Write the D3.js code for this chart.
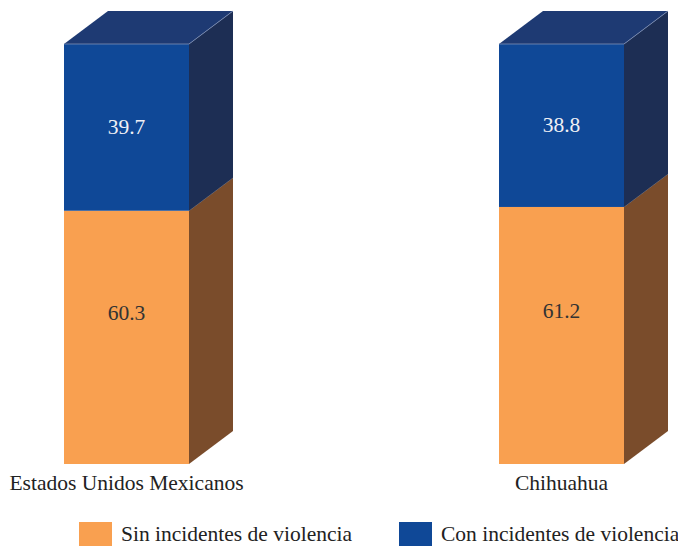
<!DOCTYPE html>
<html><head><meta charset="utf-8">
<script src="https://cdn.jsdelivr.net/npm/d3@7"></script>
<style>body{margin:0;background:#fff}svg{display:block}</style>
</head><body>
<svg id="c" width="678" height="546"></svg>
<script>
const categories = ["Estados Unidos Mexicanos", "Chihuahua"];
const sinValues = [60.3, 61.2];
const conValues = [39.7, 38.8];
const seriesNames = ["Sin incidentes de violencia", "Con incidentes de violencia"];

const svg = d3.select("#c");
const dx = 44, dy = -33;
const left = 64, right = 624, bw = 125;
const p = (right - left - 2 * bw) / (right - left - bw);
const x = d3.scaleBand().domain(categories).range([left, right]).paddingInner(p).paddingOuter(0);
const y = d3.scaleLinear().domain([0, 100]).range([464, 44]);

const colors = {
  sin: {front: "#F9A050", side: "#7A4C2B", top: "#F9A050"},
  con: {front: "#0F4897", side: "#1D2E54", top: "#1E3A73"}
};
const FS = 21.5;
const FF = "Liberation Serif";

categories.forEach((c, i) => {
  const x0 = x(c), x1 = x0 + x.bandwidth();
  const segs = [
    {v0: 0, v1: sinValues[i], col: colors.sin, val: sinValues[i], txt: "#333", off: -24},
    {v0: sinValues[i], v1: sinValues[i] + conValues[i], col: colors.con, val: conValues[i], txt: "#f0f0f5", off: 0}
  ];
  segs.forEach((s, k) => {
    const yb = y(s.v0), yt = y(s.v1);
    svg.append("path")
      .attr("d", `M${x1},${yb}L${x1+dx},${yb+dy}L${x1+dx},${yt+dy}L${x1},${yt}Z`)
      .attr("fill", s.col.side);
    svg.append("rect").attr("x", x0).attr("y", yt).attr("width", bw).attr("height", yb - yt)
      .attr("fill", s.col.front);
    if (k === segs.length - 1) {
      svg.append("path")
        .attr("d", `M${x0},${yt}L${x0+dx},${yt+dy}L${x1+dx},${yt+dy}L${x1},${yt}Z`)
        .attr("fill", s.col.top);
      svg.append("path")
        .attr("d", `M${x0},${yt}L${x1},${yt}L${x1+dx},${yt+dy}`)
        .attr("fill", "none").attr("stroke", "#7d8fb5").attr("stroke-width", 0.8);
    } else {
      svg.append("line").attr("x1", x1).attr("y1", yt).attr("x2", x1+dx).attr("y2", yt+dy)
        .attr("stroke", "#6f6a70").attr("stroke-width", 0.7);
    }
    svg.append("text")
      .attr("x", x0 + bw / 2).attr("y", (yb + yt) / 2 + s.off + 7)
      .attr("text-anchor", "middle")
      .style("font-family", FF).style("font-size", FS + "px")
      .attr("fill", s.txt)
      .text(s.val.toFixed(1));
  });
  svg.append("text")
    .attr("x", x0 + bw / 2).attr("y", 490)
    .attr("text-anchor", "middle")
    .style("font-family", FF).style("font-size", FS + "px")
    .attr("fill", "#222")
    .text(c);
});

const leg = [
  {name: seriesNames[0], col: colors.sin.front, x: 79},
  {name: seriesNames[1], col: colors.con.front, x: 399}
];
leg.forEach(l => {
  svg.append("rect").attr("x", l.x).attr("y", 522).attr("width", 33).attr("height", 24).attr("fill", l.col);
  svg.append("text").attr("x", l.x + 42).attr("y", 541)
    .style("font-family", FF).style("font-size", FS + "px")
    .attr("fill", "#222").text(l.name);
});
</script>
</body></html>
